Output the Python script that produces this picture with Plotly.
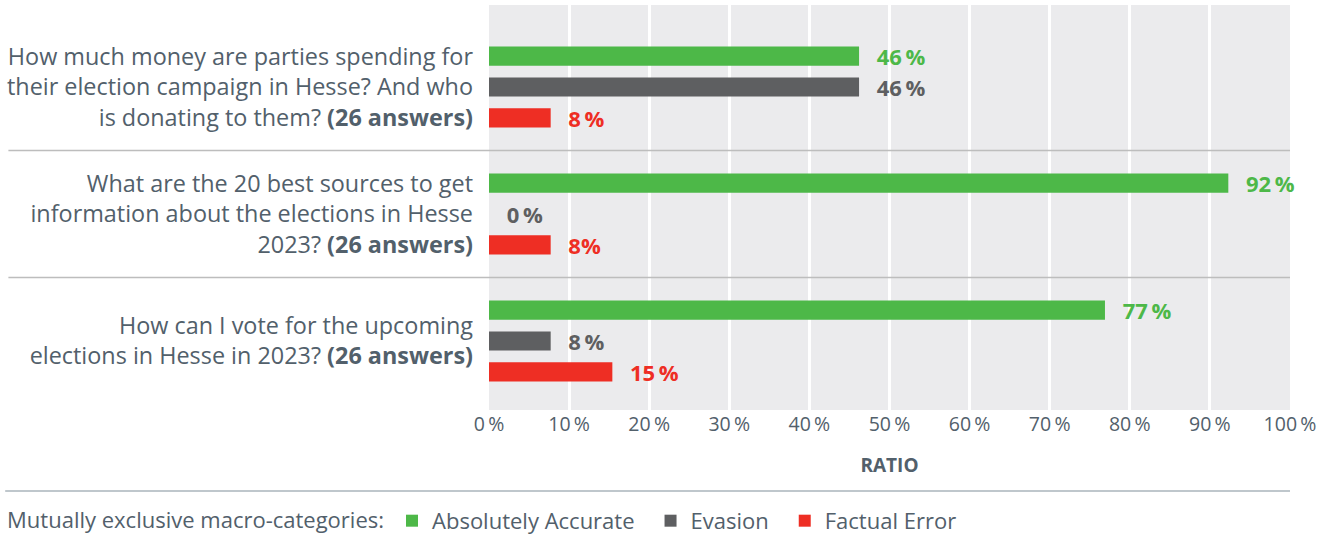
import plotly.graph_objects as go

questions = [
    "How much money are parties spending for<br>their election campaign in Hesse? And who<br>is donating to them? <b>(26 answers)</b>",
    "What are the 20 best sources to get<br>information about the elections in Hesse<br>2023? <b>(26 answers)</b>",
    "How can I vote for the upcoming<br>elections in Hesse in 2023? <b>(26 answers)</b>",
]
series_names = ["Absolutely Accurate", "Evasion", "Factual Error"]
accurate = [46.2, 92.3, 76.9]
evasion = [46.2, 0.0, 7.7]
factual = [7.7, 7.7, 15.4]
accurate_labels = ["46\u2009%", "92\u2009%", "77\u2009%"]
evasion_labels = ["46\u2009%", "0\u2009%", "8\u2009%"]
factual_labels = ["8\u2009%", "8%", "15\u2009%"]
x_ticks = [0, 10, 20, 30, 40, 50, 60, 70, 80, 90, 100]
x_tick_labels = ["0\u2009%", "10\u2009%", "20\u2009%", "30\u2009%", "40\u2009%", "50\u2009%",
                 "60\u2009%", "70\u2009%", "80\u2009%", "90\u2009%", "100\u2009%"]

colors = ["#4DB848", "#5E5F61", "#EE2E24"]
values = [accurate, evasion, factual]
labels = [accurate_labels, evasion_labels, factual_labels]
pad = "\u2002\u2009"

fig = go.Figure()
for name, vals, labs, col in zip(series_names, values, labels, colors):
    fig.add_trace(go.Bar(
        name=name + "\u2002", y=questions, x=vals, orientation="h",
        marker=dict(color=col, line=dict(width=0)),
        text=[pad + l for l in labs], textposition="outside",
        constraintext="none",
        textfont=dict(family="Open Sans", size=22, color=col, weight="bold"),
        cliponaxis=False,
    ))

font_col = "#52606B"
fig.update_layout(
    width=1330, height=537,
    margin=dict(l=489, r=40, t=5, b=127, autoexpand=False),
    paper_bgcolor="white", plot_bgcolor="#EBEBED",
    barmode="group", bargap=0.27, bargroupgap=0.38,
    font=dict(family="Open Sans", color=font_col),
    showlegend=True,
    legend=dict(
        orientation="h", xref="container", yref="container",
        x=0.0038, xanchor="left", y=0.03, yanchor="middle",
        title=dict(text="Mutually exclusive macro-categories:", font=dict(size=22, color=font_col)),
        font=dict(size=22, color=font_col), traceorder="normal",
        itemwidth=30,
    ),
    xaxis=dict(
        range=[0, 100], tickvals=x_ticks, ticktext=x_tick_labels,
        showgrid=True, gridcolor="white", gridwidth=3, zeroline=False,
        tickfont=dict(size=19.5, color=font_col), ticks="",
        title=dict(text="<b>RATIO</b>", font=dict(size=19, color=font_col), standoff=23),
    ),
    yaxis=dict(
        type="category", range=[2.543, -0.646], showgrid=False, zeroline=False,
        tickfont=dict(size=23.4, color=font_col), ticks="", ticklabelstandoff=15,
    ),
    shapes=[
        dict(type="line", xref="paper", yref="y", x0=-0.6, x1=1, y0=0.5, y1=0.5,
             line=dict(color="#BDBDBD", width=1.5)),
        dict(type="line", xref="paper", yref="y", x0=-0.6, x1=1, y0=1.5, y1=1.5,
             line=dict(color="#BDBDBD", width=1.5)),
        dict(type="line", xref="paper", yref="paper", x0=-0.604, x1=1, y0=-0.2, y1=-0.2,
             line=dict(color="#AAB4BB", width=1.5)),
    ],
)

fig.write_html("out.html", config={"displayModeBar": False},
               post_script="document.body.style.margin='0';")
